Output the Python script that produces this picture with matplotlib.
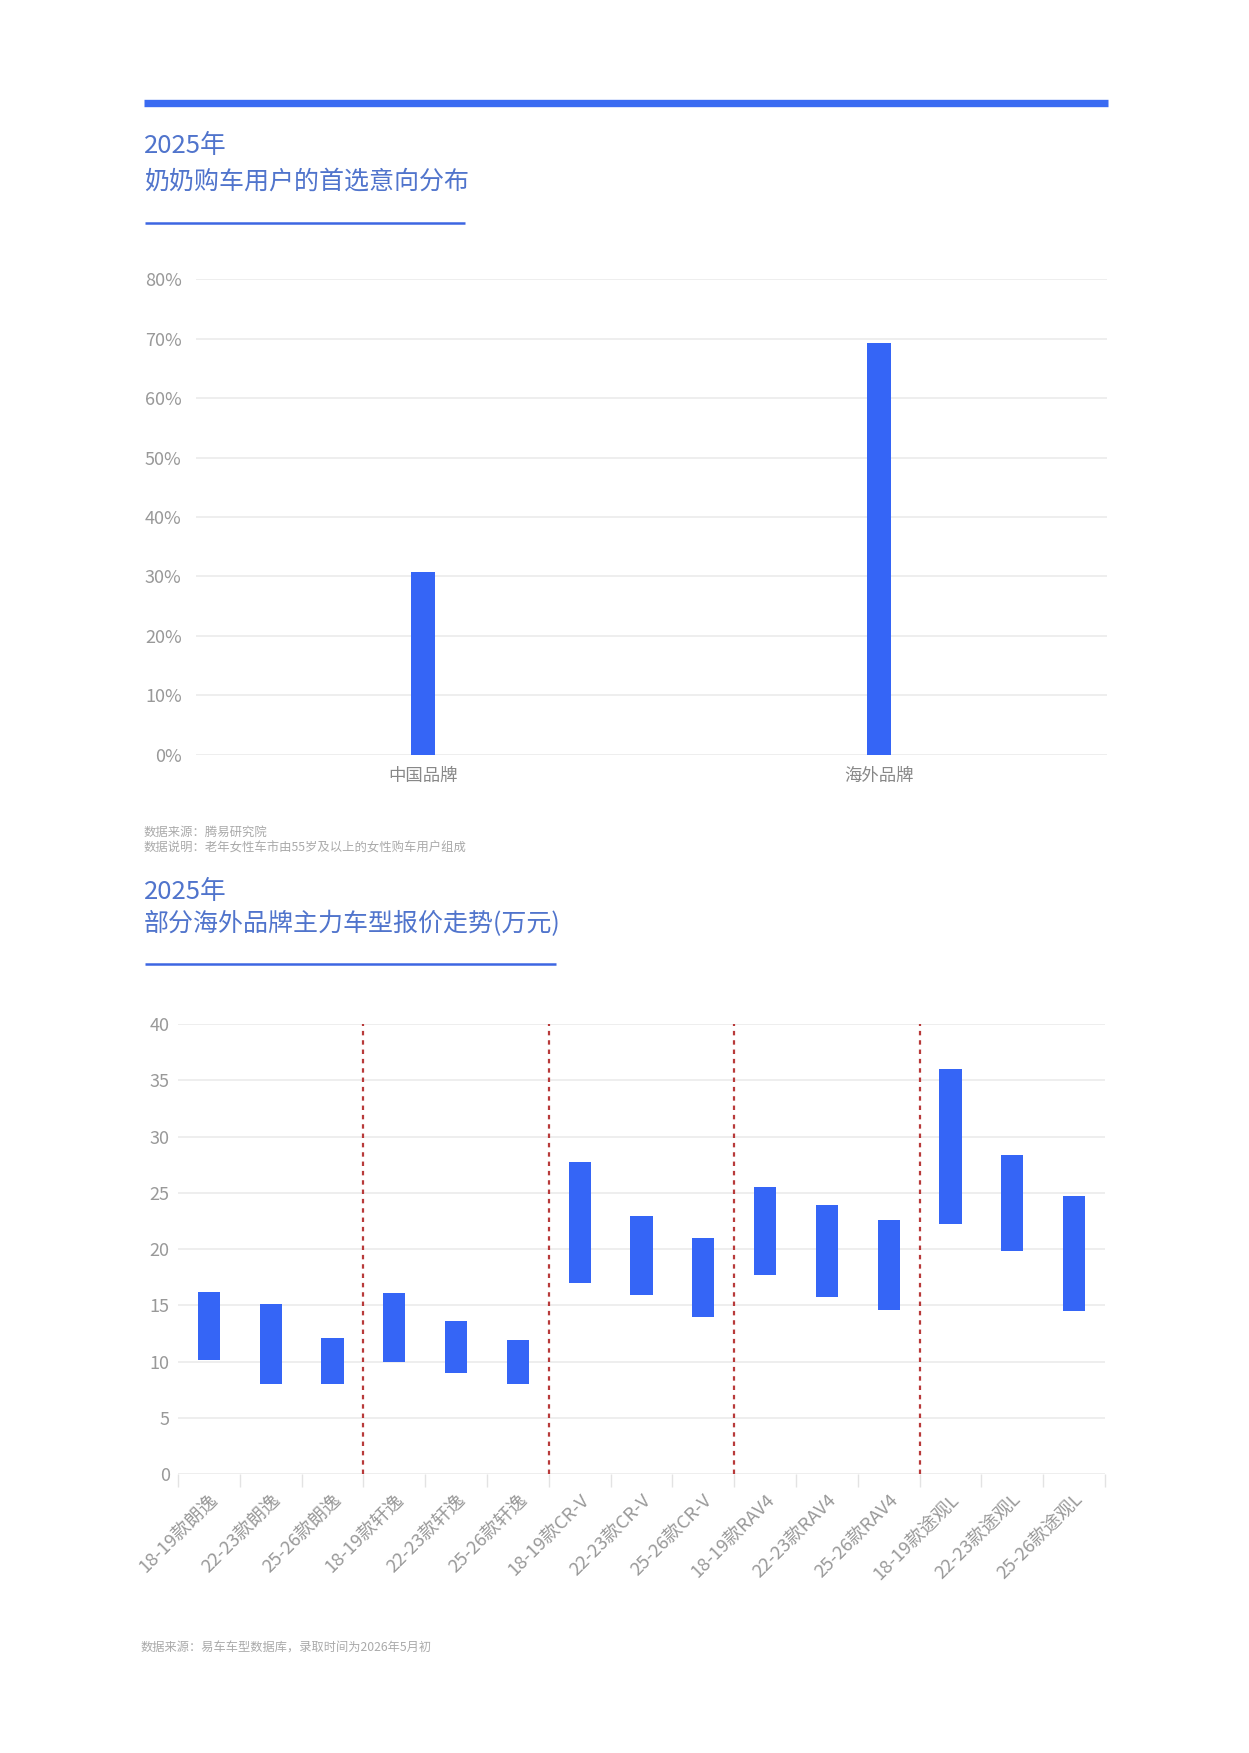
import matplotlib
matplotlib.use('Agg')
import matplotlib.pyplot as plt
from matplotlib.lines import Line2D
from matplotlib.ticker import FuncFormatter

plt.rcParams['font.family'] = ['Noto Sans CJK SC', 'DejaVu Sans']

# 图1：首选意向分布
brands = ['中国品牌', '海外品牌']
brand_share = [30.7, 69.3]

# 图2：主力车型报价区间（万元）
models = ['18-19款朗逸', '22-23款朗逸', '25-26款朗逸',
          '18-19款轩逸', '22-23款轩逸', '25-26款轩逸',
          '18-19款CR-V', '22-23款CR-V', '25-26款CR-V',
          '18-19款RAV4', '22-23款RAV4', '25-26款RAV4',
          '18-19款途观L', '22-23款途观L', '25-26款途观L']
price_low = [10.1, 8.0, 8.0, 10.0, 9.0, 8.0, 17.0, 15.9, 14.0,
             17.7, 15.7, 14.6, 22.2, 19.8, 14.5]
price_high = [16.2, 15.1, 12.1, 16.1, 13.6, 11.9, 27.7, 22.9, 21.0,
              25.5, 23.9, 22.6, 36.0, 28.4, 24.7]
group_size = 3

BAR = '#3565f6'
TITLE = '#5074cc'
GRID = '#ebebeb'
TICK = '#999999'
NOTE = '#aaaaaa'

fig = plt.figure(figsize=(12.49, 17.53), dpi=100)
fig.patch.set_facecolor('white')


def hline(y, x0, x1, lw, color):
    fig.add_artist(Line2D([x0, x1], [y, y], transform=fig.transFigure,
                          color=color, lw=lw, solid_capstyle='butt'))


def title_block(y_year, y_text, y_line, x_end, text):
    fig.text(0.1153, y_year, '2025年', fontsize=18.5, color=TITLE,
             va='center', ha='left', fontweight='light')
    fig.text(0.1153, y_text, text, fontsize=18, color=TITLE,
             va='center', ha='left', fontweight='light')
    hline(y_line, 0.1161, x_end, 1.8, '#3d66e2')


def clean_axes(ax):
    for s in ax.spines.values():
        s.set_visible(False)
    ax.set_axisbelow(True)
    ax.grid(axis='y', color=GRID, lw=1.2)
    ax.tick_params(axis='y', length=0, labelsize=13, labelcolor=TICK)


# 顶部粗线
hline(0.9412, 0.1153, 0.8871, 5.3, '#3a6bf2')

# ---------- 图1 ----------
title_block(0.9167, 0.8967, 0.8730, 0.3723, '奶奶购车用户的首选意向分布')

ax1 = fig.add_axes([0.1566, 0.5695, 0.7294, 0.2711])
clean_axes(ax1)
x1 = list(range(len(brands)))
ax1.bar(x1, brand_share, width=0.053, color=BAR)
ax1.set_xlim(-0.5, len(brands) - 0.5)
ax1.set_ylim(0, 80)
ax1.set_yticks(range(0, 81, 10))
ax1.yaxis.set_major_formatter(FuncFormatter(lambda v, p: f'{v:.0f}%'))
ax1.tick_params(axis='y', pad=10)
ax1.set_xticks(x1)
ax1.set_xticklabels(brands)
ax1.tick_params(axis='x', length=0, labelsize=12.5, labelcolor='#888888', pad=9)

fig.text(0.1147, 0.5250, '数据来源：腾易研究院', fontsize=8.9, color=NOTE, va='center')
fig.text(0.1147, 0.5161, '数据说明：老年女性车市由55岁及以上的女性购车用户组成',
         fontsize=8.9, color=NOTE, va='center')

# ---------- 图2 ----------
title_block(0.4909, 0.4729, 0.4499, 0.4452, '部分海外品牌主力车型报价走势(万元)')

ax2 = fig.add_axes([0.1425, 0.1591, 0.7422, 0.2567])
clean_axes(ax2)
x2 = list(range(len(models)))
heights = [h - l for l, h in zip(price_low, price_high)]
ax2.bar(x2, heights, bottom=price_low, width=0.36, color=BAR)
ax2.set_xlim(-0.5, len(models) - 0.5)
ax2.set_ylim(0, 40)
ax2.set_yticks(range(0, 41, 5))
ax2.tick_params(axis='y', pad=6)

for k in range(group_size, len(models), group_size):
    ax2.axvline(k - 0.5, color='#b83a3a', lw=1.6, ls=(0, (2, 2.2)), zorder=3)

ax2.set_xticks(x2)
ax2.set_xticklabels(models, rotation=45, ha='right', va='top',
                    rotation_mode='anchor')
ax2.tick_params(axis='x', which='major', length=0, labelsize=13.3,
                labelcolor=TICK, pad=12)
ax2.set_xticks([i - 0.5 for i in range(len(models) + 1)], minor=True)
ax2.tick_params(axis='x', which='minor', length=9, color='#e3e3e3', width=1)

fig.text(0.1127, 0.0598, '数据来源：易车车型数据库，录取时间为2026年5月初',
         fontsize=8.8, color=NOTE, va='center')

fig.savefig('out.png', dpi=100, facecolor='white')
